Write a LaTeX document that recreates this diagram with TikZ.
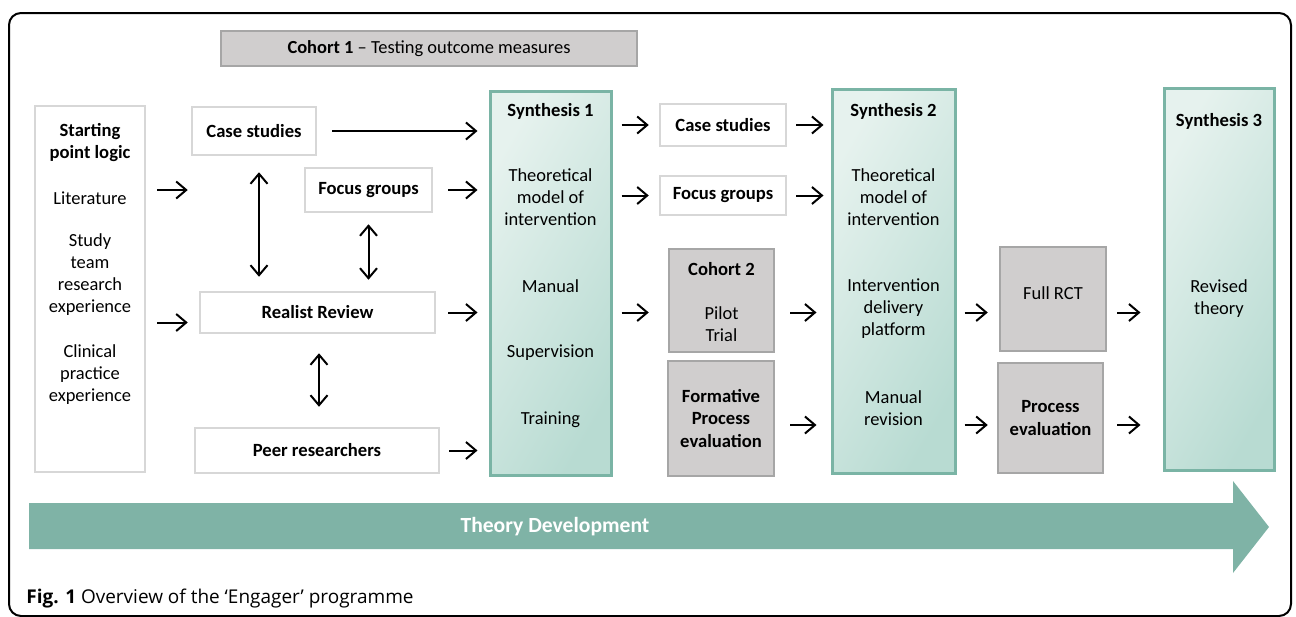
\documentclass[tikz,border=0pt]{standalone}
\usepackage{fontspec}
\setmainfont{Carlito}
\newfontfamily\capfont{Open Sans}
\usetikzlibrary{arrows.meta,positioning,calc}
\definecolor{synEdge}{RGB}{122,180,165}
\definecolor{synLight}{RGB}{230,242,238}
\definecolor{synDark}{RGB}{184,219,210}
\definecolor{cohFill}{RGB}{208,206,206}
\definecolor{cohEdge}{RGB}{166,166,166}
\definecolor{plainEdge}{RGB}{215,215,215}
\definecolor{theoryBand}{RGB}{127,179,166}

\def\px{0.2mm}

\begin{document}
\begin{tikzpicture}[
  x=\px, y=-\px,
  font=\fontsize{10.5}{12.5}\selectfont,
  plain/.style={draw=plainEdge, line width=0.5mm, fill=white, inner sep=0pt},
  cohort/.style={draw=cohEdge, line width=0.5mm, fill=cohFill, inner sep=0pt},
  synth/.style={draw=synEdge, line width=0.6mm, left color=synLight, right color=synDark,
                shading angle=60, inner sep=0pt},
  txt/.style={align=center, inner sep=0pt},
  head/.style={font=\fontsize{10.6}{12.6}\selectfont\bfseries},
  flow/.style={-{Straight Barb[length=2mm,width=3.4mm]}, line width=0.4mm},
  both/.style={{Straight Barb[length=2mm,width=3.4mm]}-{Straight Barb[length=2mm,width=3.4mm]},
               line width=0.4mm},
]
\useasboundingbox (0,0) rectangle (1296,617);

% ---------- frame ----------
\draw[line width=0.4mm, rounded corners=2.4mm] (9,13) rectangle (1291,616);

% ---------- cohort 1 banner ----------
\node[cohort, minimum width=416*\px, minimum height=35*\px] (coh1) at (429,48.5)
  {\textbf{Cohort 1} – Testing outcome measures};

% ---------- starting point ----------
\node[plain, minimum width=110*\px, minimum height=366*\px] (start) at (90,289) {};
\node[txt, head] at ($(start.north)+(0,38)$) {Starting\\point logic};
\node[txt] at ($(start.north)+(0,93)$) {Literature};
\node[txt] at ($(start.north)+(0,170)$) {Study\\team\\research\\experience};
\node[txt] at ($(start.north)+(0,270)$) {Clinical\\practice\\experience};

% ---------- first round of studies ----------
\node[plain, head, minimum width=124*\px, minimum height=48*\px] (cs1) at (254,131) {Case studies};
\node[plain, head, minimum width=127*\px, minimum height=44*\px] (fg1) at (368.5,190) {Focus groups};
\node[plain, head, minimum width=235*\px, minimum height=41*\px] (rr) at (317.5,312.5) {Realist Review};
\node[plain, head, minimum width=244*\px, minimum height=45*\px] (pr) at (317,450.5) {Peer researchers};

% ---------- synthesis 1 ----------
\node[synth, minimum width=121*\px, minimum height=384*\px] (syn1) at (550.5,283) {};
\node[txt, head] at ($(syn1.north)+(0,22)$) {Synthesis 1};
\node[txt] at ($(syn1.north)+(0,108)$) {Theoretical\\model of\\intervention};
\node[txt] at ($(syn1.north)+(0,197)$) {Manual};
\node[txt] at ($(syn1.north)+(0,263)$) {Supervision};
\node[txt] at ($(syn1.north)+(0,330)$) {Training};

% ---------- second round ----------
\node[plain, head, minimum width=126*\px, minimum height=42*\px] (cs2) at (723,125) {Case studies};
\node[plain, head, minimum width=126*\px, minimum height=39*\px] (fg2) at (723,195.5) {Focus groups};
\node[cohort, minimum width=105*\px, minimum height=103*\px] (coh2) at (721.5,300.5) {};
\node[txt, head] at ($(coh2.north)+(0,21)$) {Cohort 2};
\node[txt] at ($(coh2.north)+(0,76.5)$) {Pilot\\Trial};
\node[cohort, head, minimum width=106*\px, minimum height=115*\px, align=center] (form) at (721,418.5)
  {Formative\\Process\\evaluation};

% ---------- synthesis 2 ----------
\node[synth, minimum width=123*\px, minimum height=384*\px] (syn2) at (893.5,281) {};
\node[txt, head] at ($(syn2.north)+(0,24)$) {Synthesis 2};
\node[txt] at ($(syn2.north)+(0,110)$) {Theoretical\\model of\\intervention};
\node[txt] at ($(syn2.north)+(0,221)$) {Intervention\\delivery\\platform};
\node[txt] at ($(syn2.north)+(0,320.5)$) {Manual\\revision};

% ---------- trial ----------
\node[cohort, minimum width=106*\px, minimum height=104*\px] (full) at (1053,299) {};
\node[txt] at ($(full.north)+(0,47)$) {Full RCT};
\node[cohort, head, minimum width=105*\px, minimum height=110*\px, align=center] (proc) at (1050.5,418)
  {Process\\evaluation};

% ---------- synthesis 3 ----------
\node[synth, minimum width=110*\px, minimum height=382*\px] (syn3) at (1219,279) {};
\node[txt, head] at ($(syn3.north)+(0,35)$) {Synthesis 3};
\node[txt] at ($(syn3.north)+(0,212.5)$) {Revised\\theory};

% ---------- arrows ----------
\coordinate (lowrow) at (0,425);
\coordinate (inB) at ([yshift=-2mm]rr.west);
\draw[flow, shorten <=2.2mm, shorten >=2.2mm] (start.east |- fg1) -- (rr.west |- fg1);
\draw[flow, shorten <=2.2mm, shorten >=2.2mm] (start.east |- inB) -- (inB);
\draw[flow, shorten <=3mm, shorten >=2.2mm] (cs1.east) -- (syn1.west |- cs1.east);
\draw[flow, shorten <=3mm, shorten >=2.2mm] (fg1.east) -- (syn1.west |- fg1.east);
\draw[flow, shorten <=2.4mm, shorten >=2.2mm] (rr.east) -- (syn1.west |- rr.east);
\draw[flow, shorten <=1.8mm, shorten >=2.2mm] (pr.east) -- (syn1.west |- pr.east);
\draw[both, shorten <=3.2mm, shorten >=2.8mm] ([xshift=1mm]cs1.south) -- ([xshift=1mm]cs1.south |- rr.north);
\draw[both, shorten <=2.2mm, shorten >=2.2mm] (fg1.south) -- (fg1.south |- rr.north);
\draw[both, shorten <=3.8mm, shorten >=4mm] ([xshift=0.3mm]rr.south) -- ([xshift=0.3mm]rr.south |- pr.north);

\draw[flow, shorten <=1.8mm, shorten >=2mm] (syn1.east |- cs2) -- (cs2.west);
\draw[flow, shorten <=1.8mm, shorten >=2mm] (syn1.east |- fg2) -- (fg2.west);
\draw[flow, shorten <=1.8mm, shorten >=3.8mm] (syn1.east |- rr) -- (coh2.west |- rr);
\draw[flow, shorten <=1.8mm, shorten >=1.4mm] (cs2.east) -- (syn2.west |- cs2);
\draw[flow, shorten <=1.8mm, shorten >=1.4mm] (fg2.east) -- (syn2.west |- fg2);
\draw[flow, shorten <=3mm, shorten >=2.8mm] (coh2.east |- rr) -- (syn2.west |- rr);
\draw[flow, shorten <=3mm, shorten >=2.8mm] (form.east |- lowrow) -- (syn2.west |- lowrow);
\draw[flow, shorten <=1.6mm, shorten >=2.2mm] (syn2.east |- rr) -- (full.west |- rr);
\draw[flow, shorten <=1.6mm, shorten >=1.8mm] (syn2.east |- lowrow) -- (proc.west |- lowrow);
\draw[flow, shorten <=2mm, shorten >=4.4mm] (full.east |- rr) -- (syn3.west |- rr);
\draw[flow, shorten <=2.6mm, shorten >=4.4mm] (proc.east |- lowrow) -- (syn3.west |- lowrow);

% ---------- theory development band ----------
\fill[theoryBand] (29,503) -- (1233,503) -- (1233,481) -- (1269,527) -- (1233,573)
  -- (1233,549) -- (29,549) -- cycle;
\node[txt, text=white, font=\fontsize{12.3}{14}\selectfont\bfseries] (theory) at (555,527) {Theory Development};

% ---------- caption ----------
\node[anchor=west, inner sep=0pt, font=\capfont\fontsize{10.8}{12}\selectfont] (caption) at (26,599)
  {\textbf{Fig. 1} Overview of the ‘Engager’ programme};

\end{tikzpicture}
\end{document}
